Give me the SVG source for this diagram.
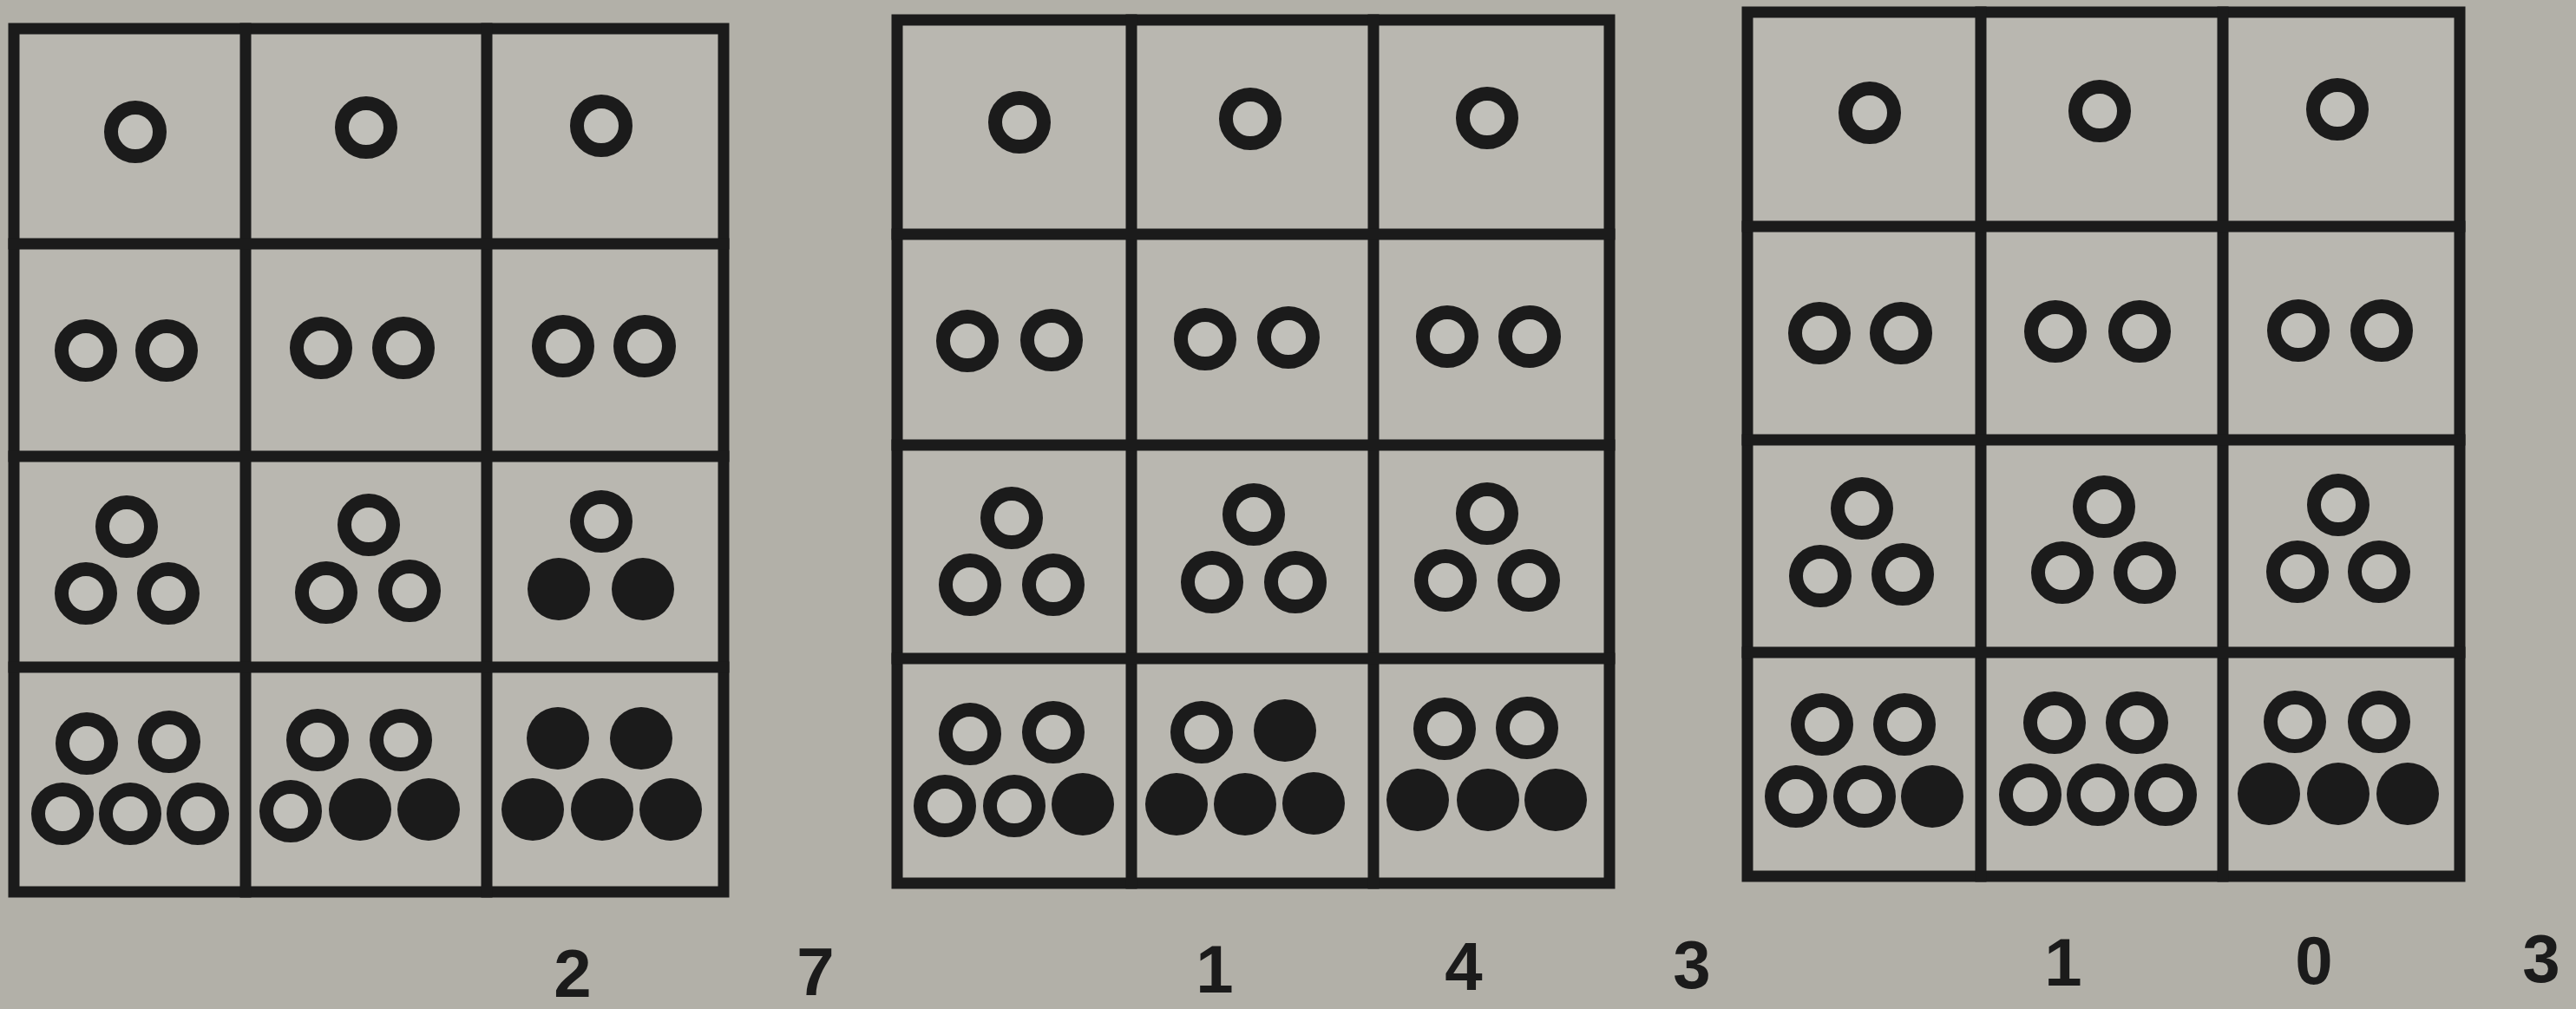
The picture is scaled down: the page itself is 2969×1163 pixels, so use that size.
<svg xmlns="http://www.w3.org/2000/svg" width="2969" height="1163" viewBox="0 0 2969 1163">
<style>
.bg{fill:#b2b0a8}
.cell{fill:#b9b7b0}
.ln{stroke:#1b1b1b;stroke-width:13;fill:none;stroke-linecap:square}
.o{fill:#c1c0ba;stroke:#1b1b1b;stroke-width:16}
.f{fill:#1b1b1b}
.num{font-family:"Liberation Sans",Arial,sans-serif;font-weight:bold;font-size:78px;fill:#1b1b1b;text-anchor:middle}
</style>
<rect class="bg" x="0" y="0" width="2969" height="1163"/>

<!-- Grid 1 -->
<g id="grid1">
<rect class="cell" x="16" y="33" width="818" height="995"/>
<g id="g1-r1c1"><circle class="o" cx="156" cy="152" r="28"/></g>
<g id="g1-r1c2"><circle class="o" cx="422" cy="147" r="28"/></g>
<g id="g1-r1c3"><circle class="o" cx="693" cy="145" r="28"/></g>
<g id="g1-r2c1"><circle class="o" cx="99" cy="404" r="28"/><circle class="o" cx="192" cy="404" r="28"/></g>
<g id="g1-r2c2"><circle class="o" cx="370" cy="401" r="28"/><circle class="o" cx="465" cy="401" r="28"/></g>
<g id="g1-r2c3"><circle class="o" cx="649" cy="399" r="28"/><circle class="o" cx="743" cy="399" r="28"/></g>
<g id="g1-r3c1"><circle class="o" cx="146" cy="607" r="28"/><circle class="o" cx="99" cy="684" r="28"/><circle class="o" cx="194" cy="684" r="28"/></g>
<g id="g1-r3c2"><circle class="o" cx="425" cy="605" r="28"/><circle class="o" cx="376" cy="683" r="28"/><circle class="o" cx="472" cy="681" r="28"/></g>
<g id="g1-r3c3"><circle class="o" cx="693" cy="601" r="28"/><circle class="f" cx="644" cy="679" r="36"/><circle class="f" cx="741" cy="679" r="36"/></g>
<g id="g1-r4c1"><circle class="o" cx="100" cy="857" r="28"/><circle class="o" cx="195" cy="855" r="28"/><circle class="o" cx="72" cy="938" r="28"/><circle class="o" cx="150" cy="938" r="28"/><circle class="o" cx="228" cy="938" r="28"/></g>
<g id="g1-r4c2"><circle class="o" cx="366" cy="853" r="28"/><circle class="o" cx="462" cy="853" r="28"/><circle class="o" cx="335" cy="935" r="28"/><circle class="f" cx="415" cy="933" r="36"/><circle class="f" cx="494" cy="933" r="36"/></g>
<g id="g1-r4c3"><circle class="f" cx="643" cy="851" r="36"/><circle class="f" cx="739" cy="851" r="36"/><circle class="f" cx="614" cy="933" r="36"/><circle class="f" cx="694" cy="933" r="36"/><circle class="f" cx="773" cy="933" r="36"/></g>
</g>

<!-- Grid 2 -->
<g id="grid2">
<rect class="cell" x="1034" y="23" width="821" height="995"/>
<g id="g2-r1c1"><circle class="o" cx="1175" cy="141" r="28"/></g>
<g id="g2-r1c2"><circle class="o" cx="1441" cy="137" r="28"/></g>
<g id="g2-r1c3"><circle class="o" cx="1714" cy="136" r="28"/></g>
<g id="g2-r2c1"><circle class="o" cx="1115" cy="393" r="28"/><circle class="o" cx="1212" cy="392" r="28"/></g>
<g id="g2-r2c2"><circle class="o" cx="1389" cy="391" r="28"/><circle class="o" cx="1485" cy="389" r="28"/></g>
<g id="g2-r2c3"><circle class="o" cx="1668" cy="388" r="28"/><circle class="o" cx="1763" cy="388" r="28"/></g>
<g id="g2-r3c1"><circle class="o" cx="1166" cy="597" r="28"/><circle class="o" cx="1118" cy="674" r="28"/><circle class="o" cx="1214" cy="674" r="28"/></g>
<g id="g2-r3c2"><circle class="o" cx="1445" cy="593" r="28"/><circle class="o" cx="1397" cy="671" r="28"/><circle class="o" cx="1493" cy="671" r="28"/></g>
<g id="g2-r3c3"><circle class="o" cx="1714" cy="592" r="28"/><circle class="o" cx="1666" cy="669" r="28"/><circle class="o" cx="1762" cy="669" r="28"/></g>
<g id="g2-r4c1"><circle class="o" cx="1118" cy="846" r="28"/><circle class="o" cx="1214" cy="844" r="28"/><circle class="o" cx="1089" cy="929" r="28"/><circle class="o" cx="1169" cy="929" r="28"/><circle class="f" cx="1248" cy="927" r="36"/></g>
<g id="g2-r4c2"><circle class="o" cx="1385" cy="844" r="28"/><circle class="f" cx="1481" cy="842" r="36"/><circle class="f" cx="1356" cy="927" r="36"/><circle class="f" cx="1435" cy="927" r="36"/><circle class="f" cx="1514" cy="926" r="36"/></g>
<g id="g2-r4c3"><circle class="o" cx="1665" cy="840" r="28"/><circle class="o" cx="1760" cy="839" r="28"/><circle class="f" cx="1634" cy="922" r="36"/><circle class="f" cx="1715" cy="922" r="36"/><circle class="f" cx="1793" cy="922" r="36"/></g>
</g>

<!-- Grid 3 -->
<g id="grid3">
<rect class="cell" x="2014" y="14" width="821" height="996"/>
<g id="g3-r1c1"><circle class="o" cx="2155" cy="130" r="28"/></g>
<g id="g3-r1c2"><circle class="o" cx="2420" cy="128" r="28"/></g>
<g id="g3-r1c3"><circle class="o" cx="2694" cy="126" r="28"/></g>
<g id="g3-r2c1"><circle class="o" cx="2097" cy="384" r="28"/><circle class="o" cx="2191" cy="384" r="28"/></g>
<g id="g3-r2c2"><circle class="o" cx="2369" cy="382" r="28"/><circle class="o" cx="2466" cy="382" r="28"/></g>
<g id="g3-r2c3"><circle class="o" cx="2649" cy="381" r="28"/><circle class="o" cx="2745" cy="381" r="28"/></g>
<g id="g3-r3c1"><circle class="o" cx="2146" cy="586" r="28"/><circle class="o" cx="2098" cy="664" r="28"/><circle class="o" cx="2193" cy="662" r="28"/></g>
<g id="g3-r3c2"><circle class="o" cx="2425" cy="584" r="28"/><circle class="o" cx="2377" cy="660" r="28"/><circle class="o" cx="2472" cy="660" r="28"/></g>
<g id="g3-r3c3"><circle class="o" cx="2695" cy="582" r="28"/><circle class="o" cx="2648" cy="659" r="28"/><circle class="o" cx="2742" cy="659" r="28"/></g>
<g id="g3-r4c1"><circle class="o" cx="2100" cy="835" r="28"/><circle class="o" cx="2195" cy="835" r="28"/><circle class="o" cx="2070" cy="918" r="28"/><circle class="o" cx="2149" cy="918" r="28"/><circle class="f" cx="2227" cy="918" r="36"/></g>
<g id="g3-r4c2"><circle class="o" cx="2368" cy="833" r="28"/><circle class="o" cx="2463" cy="833" r="28"/><circle class="o" cx="2340" cy="916" r="28"/><circle class="o" cx="2418" cy="916" r="28"/><circle class="o" cx="2496" cy="916" r="28"/></g>
<g id="g3-r4c3"><circle class="o" cx="2645" cy="832" r="28"/><circle class="o" cx="2742" cy="832" r="28"/><circle class="f" cx="2615" cy="915" r="36"/><circle class="f" cx="2695" cy="915" r="36"/><circle class="f" cx="2775" cy="915" r="36"/></g>
</g>

<!-- Grid lines -->
<g id="connectors">
<rect class="ln" x="16" y="33" width="818" height="995"/>
<line class="ln" x1="283" y1="33" x2="283" y2="1028"/>
<line class="ln" x1="561" y1="33" x2="561" y2="1028"/>
<line class="ln" x1="16" y1="281" x2="834" y2="281"/>
<line class="ln" x1="16" y1="526" x2="834" y2="526"/>
<line class="ln" x1="16" y1="769" x2="834" y2="769"/>

<rect class="ln" x="1034" y="23" width="821" height="995"/>
<line class="ln" x1="1304" y1="23" x2="1304" y2="1018"/>
<line class="ln" x1="1583" y1="23" x2="1583" y2="1018"/>
<line class="ln" x1="1034" y1="270" x2="1855" y2="270"/>
<line class="ln" x1="1034" y1="513" x2="1855" y2="513"/>
<line class="ln" x1="1034" y1="759" x2="1855" y2="759"/>

<rect class="ln" x="2014" y="14" width="821" height="996"/>
<line class="ln" x1="2283" y1="14" x2="2283" y2="1010"/>
<line class="ln" x1="2562" y1="14" x2="2562" y2="1010"/>
<line class="ln" x1="2014" y1="261" x2="2835" y2="261"/>
<line class="ln" x1="2014" y1="507" x2="2835" y2="507"/>
<line class="ln" x1="2014" y1="752" x2="2835" y2="752"/>
</g>

<g id="labels">
<text class="num" x="660" y="1149">2</text>
<text class="num" x="940" y="1147">7</text>
<text class="num" x="1400" y="1144">1</text>
<text class="num" x="1687" y="1141">4</text>
<text class="num" x="1950" y="1139">3</text>
<text class="num" x="2378" y="1136">1</text>
<text class="num" x="2667" y="1134">0</text>
<text class="num" x="2929" y="1132">3</text>
</g>
</svg>
